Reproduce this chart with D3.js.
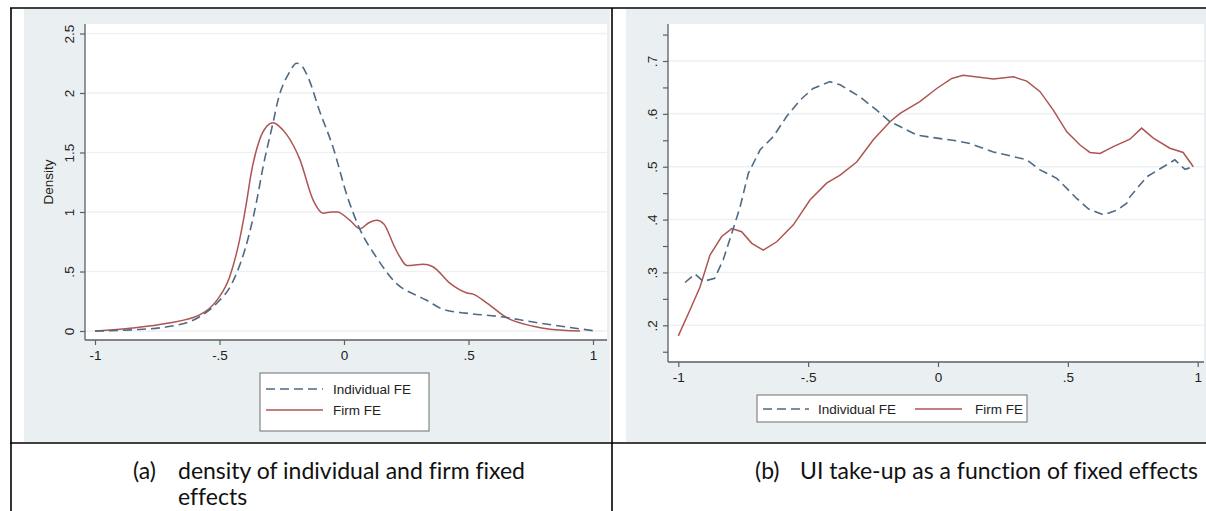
<!DOCTYPE html>
<html>
<head>
<meta charset="utf-8">
<script src="https://cdn.jsdelivr.net/npm/d3@7"></script>
<style>
  body { margin: 0; background: #fff; }
  svg { display: block; }
</style>
</head>
<body>
<div class="figure"></div>
<script>
// panel (a): kernel density of the fixed effects
const densIndX = [-1.0, -0.85, -0.71, -0.58, -0.51, -0.45, -0.38, -0.35, -0.325, -0.285, -0.265, -0.22, -0.19, -0.175, -0.14, -0.10, -0.045, 0.015, 0.065, 0.13, 0.21, 0.29, 0.33, 0.40, 0.49, 0.63, 0.76, 0.89, 1.01];
const densIndY = [0.0, 0.01, 0.035, 0.12, 0.235, 0.40, 0.82, 1.10, 1.38, 1.75, 1.94, 2.17, 2.25, 2.24, 2.11, 1.86, 1.55, 1.12, 0.85, 0.62, 0.40, 0.30, 0.26, 0.18, 0.15, 0.12, 0.075, 0.035, 0.0];
const densFirmX = [-1.0, -0.85, -0.71, -0.58, -0.51, -0.46, -0.42, -0.39, -0.375, -0.34, -0.31, -0.285, -0.26, -0.23, -0.177, -0.124, -0.084, -0.05, -0.028, 0.024, 0.064, 0.10, 0.132, 0.16, 0.20, 0.225, 0.253, 0.318, 0.357, 0.426, 0.494, 0.518, 0.574, 0.655, 0.76, 0.827, 0.948];
const densFirmY = [0.0, 0.025, 0.065, 0.135, 0.26, 0.45, 0.76, 1.10, 1.30, 1.60, 1.72, 1.75, 1.72, 1.65, 1.44, 1.10, 0.99, 1.0, 1.0, 0.93, 0.86, 0.91, 0.93, 0.90, 0.72, 0.62, 0.55, 0.56, 0.54, 0.40, 0.32, 0.31, 0.235, 0.11, 0.04, 0.015, 0.0];

// panel (b): UI take-up by fixed effect
const takeIndX = [-0.974, -0.936, -0.904, -0.86, -0.827, -0.794, -0.762, -0.73, -0.685, -0.634, -0.583, -0.531, -0.481, -0.416, -0.377, -0.30, -0.236, -0.185, -0.146, -0.082, -0.018, 0.072, 0.123, 0.213, 0.265, 0.342, 0.393, 0.457, 0.508, 0.534, 0.58, 0.637, 0.69, 0.727, 0.739, 0.804, 0.868, 0.912, 0.951, 0.983];
const takeIndY = [0.281, 0.297, 0.283, 0.289, 0.324, 0.374, 0.424, 0.488, 0.532, 0.557, 0.595, 0.626, 0.648, 0.661, 0.655, 0.632, 0.607, 0.585, 0.576, 0.56, 0.555, 0.549, 0.544, 0.528, 0.522, 0.513, 0.494, 0.478, 0.453, 0.44, 0.42, 0.409, 0.418, 0.431, 0.443, 0.481, 0.50, 0.513, 0.495, 0.50];
const takeFirmX = [-1.0, -0.955, -0.916, -0.878, -0.833, -0.794, -0.756, -0.717, -0.673, -0.621, -0.557, -0.493, -0.429, -0.377, -0.313, -0.249, -0.185, -0.146, -0.07, -0.005, 0.053, 0.097, 0.213, 0.29, 0.342, 0.393, 0.444, 0.496, 0.547, 0.585, 0.624, 0.675, 0.739, 0.784, 0.829, 0.893, 0.944, 0.983];
const takeFirmY = [0.18, 0.229, 0.273, 0.333, 0.368, 0.383, 0.377, 0.355, 0.342, 0.358, 0.39, 0.437, 0.469, 0.484, 0.509, 0.551, 0.585, 0.601, 0.623, 0.648, 0.667, 0.673, 0.666, 0.67, 0.662, 0.642, 0.607, 0.566, 0.541, 0.527, 0.525, 0.538, 0.552, 0.573, 0.554, 0.535, 0.527, 0.50];

const xTicks = [-1, -0.5, 0, 0.5, 1];
const xTickLabels = ["-1", "-.5", "0", ".5", "1"];
const densTicks = [0, 0.5, 1, 1.5, 2, 2.5];
const densTickLabels = ["0", ".5", "1", "1.5", "2", "2.5"];
const takeTicks = [0.2, 0.3, 0.4, 0.5, 0.6, 0.7];
const takeTickLabels = [".2", ".3", ".4", ".5", ".6", ".7"];
const takeMinorTicks = [0.15, 0.25, 0.35, 0.45, 0.55, 0.65, 0.75];

const seriesNames = ["Individual FE", "Firm FE"];
const captionA = ["density of individual and firm fixed", "effects"];
const captionB = "UI take-up as a function of fixed effects";

const W = 1206, H = 511;
const indColor = "#4f6a84", firmColor = "#ad5553";
const bg = "#eaf0f2", gridColor = "#edf1f3";
const dash = "9,5";
const axisFont = "'Liberation Sans', Arial, sans-serif";

const svg = d3.select(".figure").append("svg")
  .attr("width", W).attr("height", H);

svg.append("rect").attr("width", W).attr("height", H).attr("fill", "#fff");

// stata graph backgrounds
svg.append("rect").attr("x", 24).attr("y", 9).attr("width", 586).attr("height", 433).attr("fill", bg);
svg.append("rect").attr("x", 626).attr("y", 9).attr("width", 580).attr("height", 433).attr("fill", bg);

function zipXY(xs, ys) {
  return xs.map((x, i) => ({ x: x, y: ys[i] }));
}

function drawPanel(opt) {
  const g = svg.append("g");
  const x = d3.scaleLinear().domain([-1, 1]).range(opt.xRange);
  const y = d3.scaleLinear().domain(opt.yDomain).range(opt.yRange);

  // plot region
  g.append("rect")
    .attr("x", opt.left).attr("y", opt.top)
    .attr("width", opt.right - opt.left).attr("height", opt.bottom - opt.top)
    .attr("fill", "#fff");

  // grid
  g.selectAll(".grid")
    .data(opt.yTicks)
    .enter()
    .append("line")
    .attr("x1", opt.left + 1).attr("x2", opt.right)
    .attr("y1", d => y(d)).attr("y2", d => y(d))
    .attr("stroke", gridColor).attr("stroke-width", 1.5);

  // x axis
  const xAxis = d3.axisBottom(x).tickValues(xTicks)
    .tickFormat((d, i) => xTickLabels[i]).tickSize(5).tickPadding(5);
  const gx = g.append("g")
    .attr("transform", "translate(0," + opt.bottom + ")")
    .call(xAxis);
  gx.select(".domain").attr("d", "M" + opt.left + ",0H" + opt.right);

  // y axis
  const yAxis = d3.axisLeft(y).tickValues(opt.yTicks.concat(opt.minor || []))
    .tickFormat(d => {
      const i = opt.yTicks.indexOf(d);
      return i < 0 ? "" : opt.yTickLabels[i];
    })
    .tickSize(5).tickPadding(4);
  const gy = g.append("g")
    .attr("transform", "translate(" + opt.left + ",0)")
    .call(yAxis);
  gy.select(".domain").attr("d", "M0," + opt.top + "V" + opt.bottom);
  gy.selectAll(".tick text")
    .attr("transform", "rotate(-90)")
    .attr("x", 0).attr("y", -11)
    .attr("dy", 0)
    .attr("text-anchor", "middle");

  [gx, gy].forEach(a => {
    a.attr("font-family", axisFont).attr("font-size", 13.5);
    a.selectAll(".domain").attr("stroke", "#5a5f63").attr("stroke-width", 1.3);
    a.selectAll(".tick line").attr("stroke", "#5a5f63").attr("stroke-width", 1.2);
    a.selectAll(".tick text").attr("fill", "#222");
  });

  if (opt.yTitle) {
    g.append("text")
      .attr("transform", "translate(" + opt.yTitleX + "," + (opt.top + opt.bottom) / 2 + ") rotate(-90)")
      .attr("text-anchor", "middle")
      .attr("font-family", axisFont)
      .attr("font-size", 13.5).attr("fill", "#222")
      .text(opt.yTitle);
  }

  const line = d3.line().x(d => x(d.x)).y(d => y(d.y)).curve(opt.curve);

  g.append("path")
    .datum(zipXY(opt.firmX, opt.firmY))
    .attr("d", line)
    .attr("fill", "none").attr("stroke", firmColor).attr("stroke-width", 1.5);

  g.append("path")
    .datum(zipXY(opt.indX, opt.indY))
    .attr("d", line)
    .attr("fill", "none").attr("stroke", indColor).attr("stroke-width", 1.6)
    .attr("stroke-dasharray", dash);

  // legend
  const lg = g.append("g");
  lg.append("rect")
    .attr("x", opt.legend.x).attr("y", opt.legend.y)
    .attr("width", opt.legend.w).attr("height", opt.legend.h)
    .attr("fill", "#fff").attr("stroke", "#6b6f72").attr("stroke-width", 1);
  opt.legend.keys.forEach((k, i) => {
    lg.append("line")
      .attr("x1", k.x1).attr("x2", k.x2).attr("y1", k.y).attr("y2", k.y)
      .attr("stroke", i === 0 ? indColor : firmColor)
      .attr("stroke-width", 1.5)
      .attr("stroke-dasharray", i === 0 ? dash : null);
    lg.append("text")
      .attr("x", k.tx).attr("y", k.y).attr("dy", "0.35em")
      .attr("font-family", axisFont)
      .attr("font-size", 13.5).attr("fill", "#222")
      .text(seriesNames[i]);
  });
}

drawPanel({
  left: 85, right: 607, top: 24, bottom: 340,
  xRange: [95, 593], yDomain: [0, 2.5], yRange: [331, 33.5],
  yTicks: densTicks, yTickLabels: densTickLabels,
  yTitle: "Density", yTitleX: 53,
  indX: densIndX, indY: densIndY, firmX: densFirmX, firmY: densFirmY,
  curve: d3.curveMonotoneX,
  legend: {
    x: 260, y: 373, w: 169, h: 58,
    keys: [
      { x1: 266, x2: 323, tx: 333, y: 389 },
      { x1: 266, x2: 323, tx: 333, y: 410 }
    ]
  }
});

drawPanel({
  left: 668, right: 1204, top: 24, bottom: 362,
  xRange: [678.3, 1197.7], yDomain: [0.2, 0.7], yRange: [325.3, 61],
  yTicks: takeTicks, yTickLabels: takeTickLabels, minor: takeMinorTicks,
  indX: takeIndX, indY: takeIndY, firmX: takeFirmX, firmY: takeFirmY,
  curve: d3.curveLinear,
  legend: {
    x: 757, y: 395, w: 270, h: 27,
    keys: [
      { x1: 763, x2: 809, tx: 818, y: 409 },
      { x1: 915, x2: 962, tx: 975, y: 409 }
    ]
  }
});

// table rules of the document around the figures
const rules = [
  [10, 8, 1206, 8], [10, 443, 1206, 443],
  [11, 8, 11, 511], [612, 8, 612, 511]
];
svg.selectAll(".rule")
  .data(rules)
  .enter()
  .append("line")
  .attr("x1", d => d[0]).attr("y1", d => d[1])
  .attr("x2", d => d[2]).attr("y2", d => d[3])
  .attr("stroke", "#000").attr("stroke-width", 1.6);

// captions
const capFont = "Lato, 'Open Sans', sans-serif";
function caption(x, y, t) {
  svg.append("text").attr("x", x).attr("y", y)
    .attr("font-family", capFont).attr("font-size", 23).attr("fill", "#111")
    .style("font-variant-ligatures", "none")
    .text(t);
}
caption(133, 479, "(a)");
captionA.forEach((t, i) => caption(178, 479 + i * 26, t));
caption(755, 479, "(b)");
caption(800, 479, captionB);
</script>
</body>
</html>
